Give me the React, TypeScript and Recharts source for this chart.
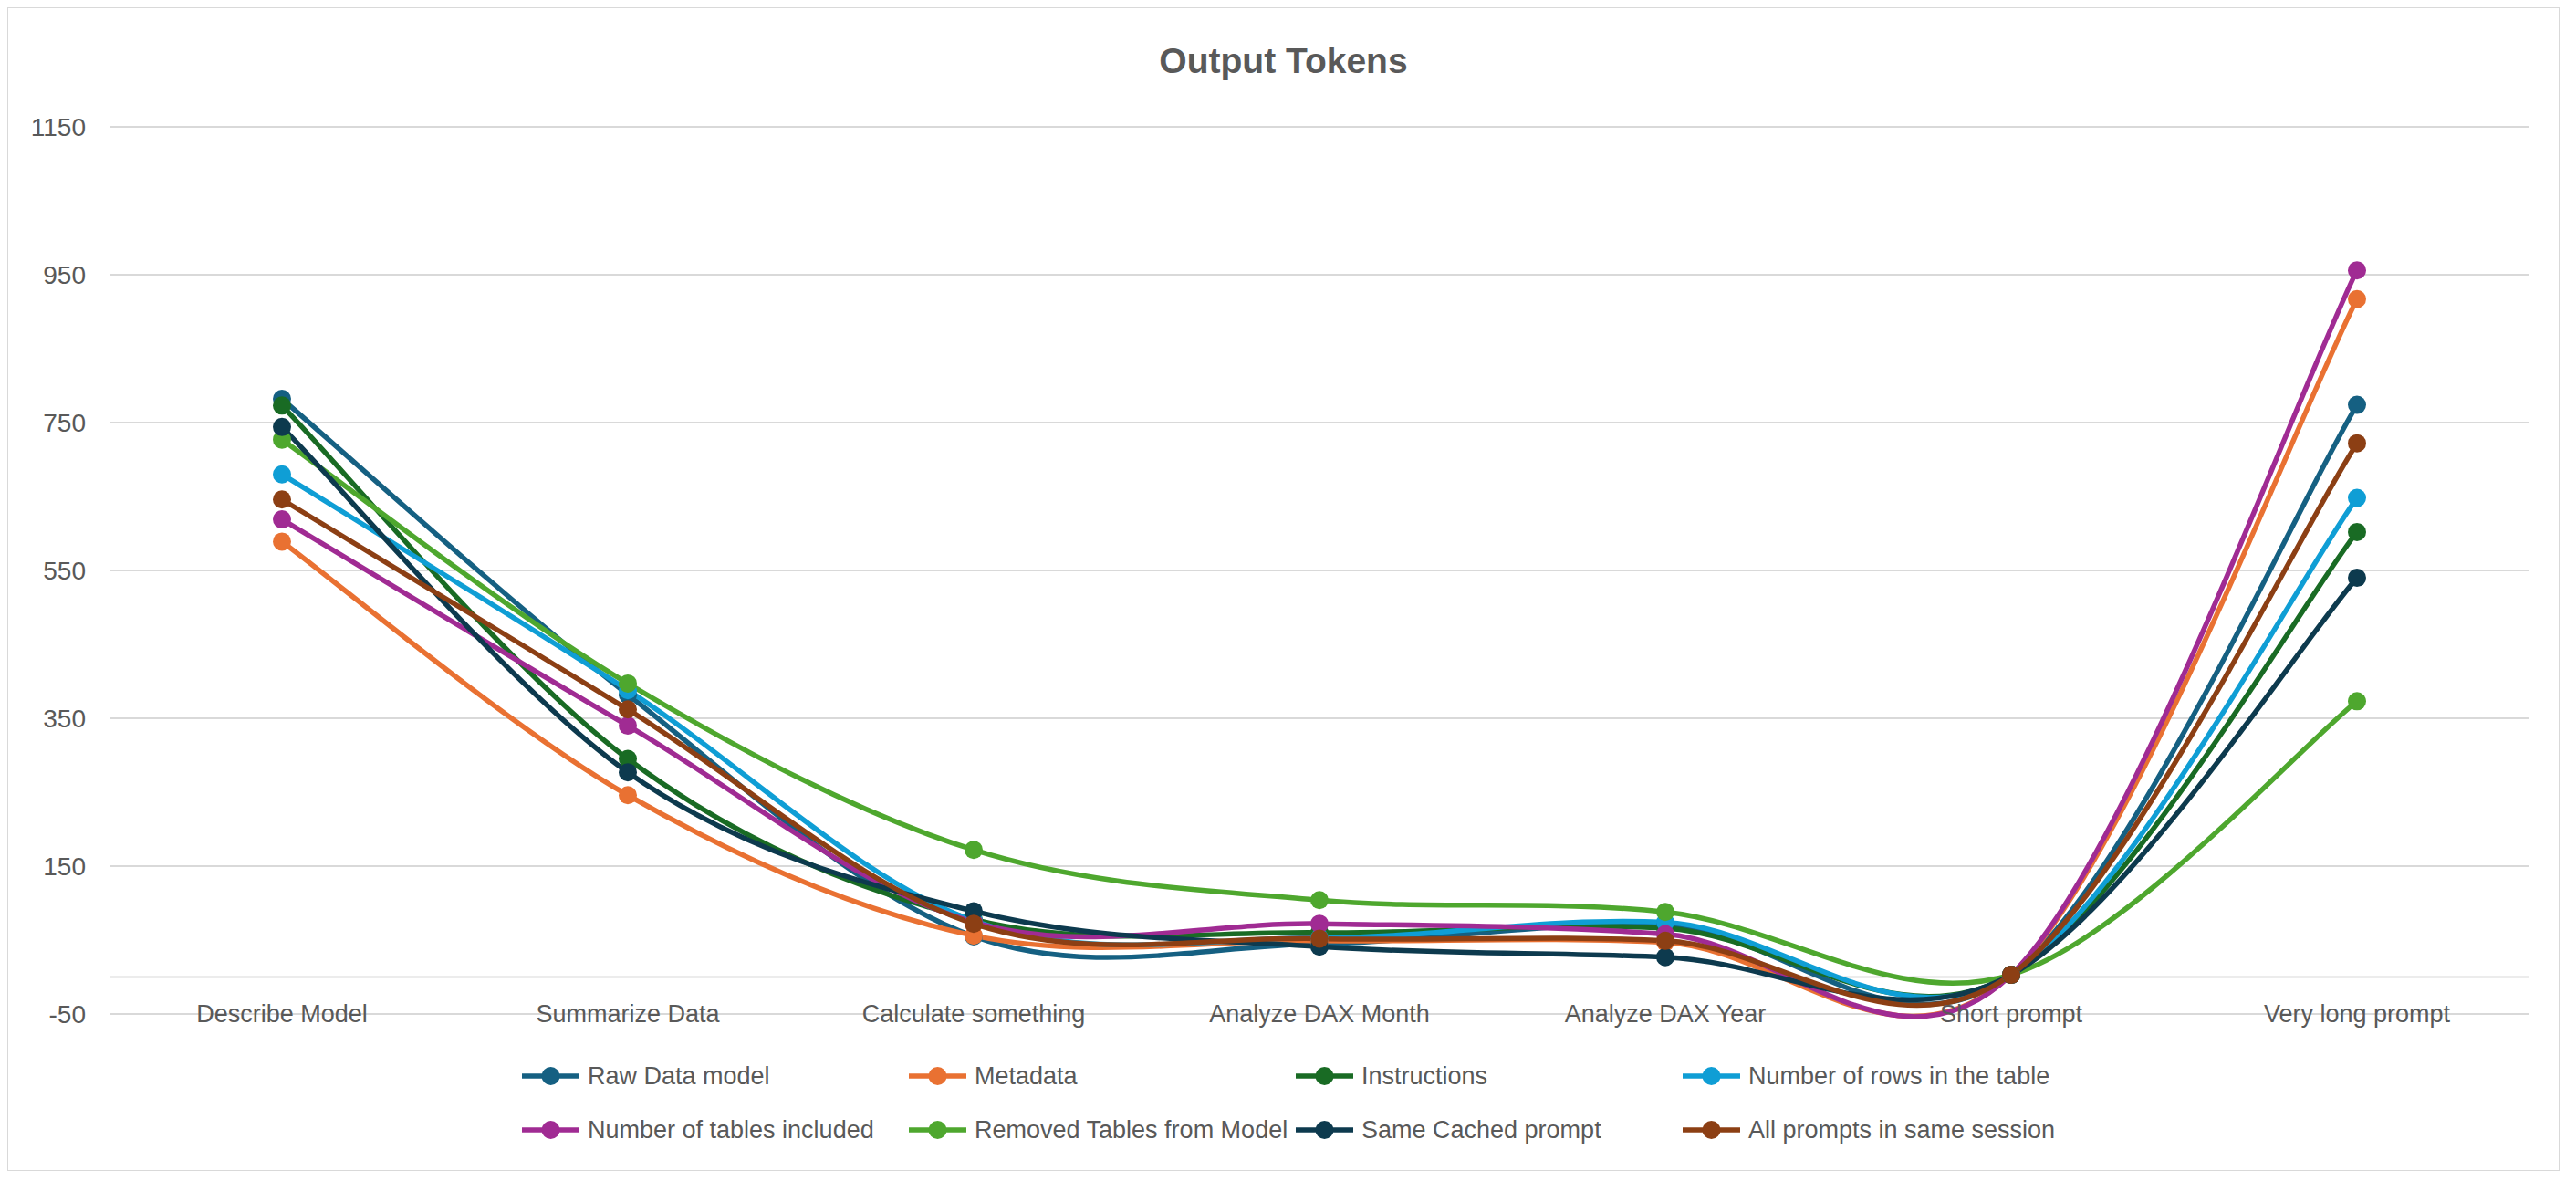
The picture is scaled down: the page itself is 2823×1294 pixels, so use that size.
import React from "react";
import { LineChart, Line, XAxis, YAxis, CartesianGrid, ReferenceLine } from "recharts";

const categories = [
  "Describe Model",
  "Summarize Data",
  "Calculate something",
  "Analyze DAX Month",
  "Analyze DAX Year",
  "Short prompt",
  "Very long prompt",
];

const rawDataModel = [782, 382, 55, 45, 70, 3, 774];
const metadata = [589, 246, 56, 49, 47, 3, 917];
const instructions = [773, 295, 78, 60, 66, 3, 602];
const numberOfRows = [680, 388, 76, 53, 74, 3, 648];
const numberOfTables = [619, 340, 74, 72, 58, 3, 956];
const removedTables = [727, 397, 172, 104, 88, 3, 373];
const sameCached = [744, 277, 89, 41, 27, 3, 540];
const allPrompts = [646, 362, 72, 52, 49, 3, 722];

const yTicks = [-50, 150, 350, 550, 750, 950, 1150];

const series = [
  { key: "raw", name: "Raw Data model", color: "#156082", values: rawDataModel },
  { key: "meta", name: "Metadata", color: "#E97132", values: metadata },
  { key: "instr", name: "Instructions", color: "#196B24", values: instructions },
  { key: "rows", name: "Number of rows in the table", color: "#0F9ED5", values: numberOfRows },
  { key: "tables", name: "Number of tables included", color: "#A02B93", values: numberOfTables },
  { key: "removed", name: "Removed Tables from Model", color: "#4EA72E", values: removedTables },
  { key: "cached", name: "Same Cached prompt", color: "#0D3A4E", values: sameCached },
  { key: "session", name: "All prompts in same session", color: "#8C3F14", values: allPrompts },
];

const data = categories.map((category, i) => {
  const row: Record<string, string | number> = { category };
  series.forEach((s) => (row[s.key] = s.values[i]));
  return row;
});

const FONT = '"Liberation Sans", Arial, sans-serif';
const TEXT = "#595959";

// Excel-style smoothed line (Catmull-Rom as cubic beziers)
function excelSmooth(context: any) {
  let pts: number[][] = [];
  return {
    areaStart() {},
    areaEnd() {},
    lineStart() {
      pts = [];
    },
    point(x: number, y: number) {
      pts.push([+x, +y]);
    },
    lineEnd() {
      const n = pts.length;
      if (!n) return;
      context.moveTo(pts[0][0], pts[0][1]);
      for (let i = 0; i < n - 1; i++) {
        const p0 = pts[i > 0 ? i - 1 : i];
        const p1 = pts[i];
        const p2 = pts[i + 1];
        const p3 = pts[i + 2 < n ? i + 2 : i + 1];
        context.bezierCurveTo(
          p1[0] + (p2[0] - p0[0]) / 6,
          p1[1] + (p2[1] - p0[1]) / 6,
          p2[0] - (p3[0] - p1[0]) / 6,
          p2[1] - (p3[1] - p1[1]) / 6,
          p2[0],
          p2[1]
        );
      }
    },
  };
}

function CategoryTick({ x, y, payload }: any) {
  return (
    <text x={x} y={y} dy="0.35em" textAnchor="middle" fill={TEXT} fontSize={27} fontFamily={FONT}>
      {payload.value}
    </text>
  );
}

const legendCols = [563, 987, 1411, 1835];
const legendRows = [1170, 1229];

export default function App() {
  return (
    <div
      style={{
        position: "relative",
        width: 2795,
        height: 1273,
        border: "1px solid #d9d9d9",
        background: "#fff",
        fontFamily: FONT,
      }}
    >
      <div
        style={{
          position: "absolute",
          left: 0,
          top: 37,
          width: "100%",
          textAlign: "center",
          fontSize: 39,
          lineHeight: "42px",
          fontWeight: "bold",
          color: TEXT,
        }}
      >
        Output Tokens
      </div>

      <LineChart width={2795} height={1273} data={data} margin={{ top: 130, right: 32, left: 11, bottom: 131 }}>
        <CartesianGrid vertical={false} stroke="#d9d9d9" strokeWidth={2} />
        <ReferenceLine y={0} stroke="#d9d9d9" strokeWidth={2} />
        <XAxis
          dataKey="category"
          axisLine={false}
          tickLine={false}
          tickSize={0}
          tickMargin={0}
          height={40}
          interval={0}
          padding={{ left: 189, right: 189 }}
          tick={<CategoryTick />}
        />
        <YAxis
          type="number"
          domain={[-50, 1150]}
          ticks={yTicks}
          width={100}
          axisLine={false}
          tickLine={false}
          tickSize={0}
          tickMargin={26}
          tick={{ fill: TEXT, fontSize: 28, fontFamily: FONT }}
        />
        {series.map((s) => (
          <Line
            key={s.key}
            dataKey={s.key}
            name={s.name}
            type={excelSmooth as any}
            stroke={s.color}
            strokeWidth={5.5}
            dot={{ r: 10, fill: s.color, stroke: s.color, strokeWidth: 0 }}
            activeDot={false}
            isAnimationActive={false}
          />
        ))}
      </LineChart>

      {series.map((s, i) => (
        <div
          key={s.key}
          style={{
            position: "absolute",
            left: legendCols[i % 4],
            top: legendRows[Math.floor(i / 4)] - 20,
            height: 40,
            display: "flex",
            alignItems: "center",
            whiteSpace: "nowrap",
          }}
        >
          <svg width={63} height={24} style={{ marginRight: 9 }}>
            <line x1={0} y1={12} x2={63} y2={12} stroke={s.color} strokeWidth={5.5} />
            <circle cx={31.5} cy={12} r={10} fill={s.color} />
          </svg>
          <span style={{ fontSize: 27, color: TEXT }}>{s.name}</span>
        </div>
      ))}
    </div>
  );
}
